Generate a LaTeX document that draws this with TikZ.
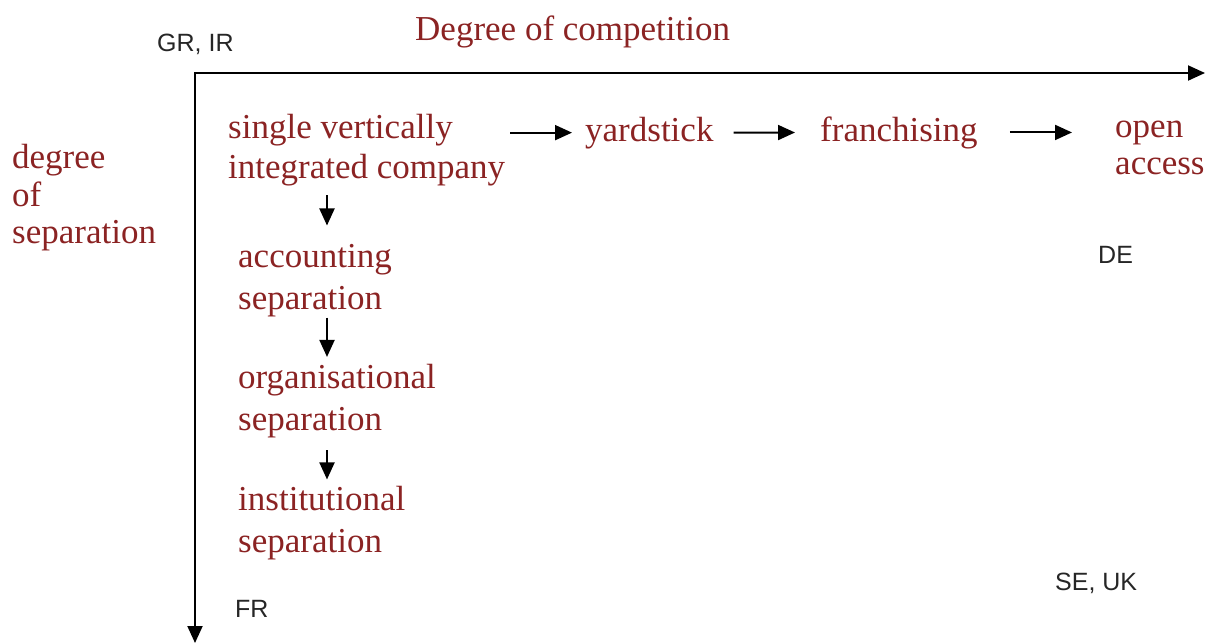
\documentclass[tikz,border=0pt]{standalone}
\usepackage{fontspec}
\setmainfont{Liberation Serif}
\setsansfont{Liberation Sans}
\usepackage{tikz}
\usepackage{xcolor}
\usetikzlibrary{arrows.meta,positioning}
\definecolor{regRed}{HTML}{8B2323}
\definecolor{regInk}{HTML}{262626}
\tikzset{
  term/.style={inner sep=0pt,align=left,text=regRed,
               font=\fontsize{35}{42}\selectfont},
  ctry/.style={inner sep=0pt,text=regInk,font=\sffamily\fontsize{25}{30}\selectfont},
  axis/.style={{Triangle[length=17pt,width=15pt]}-{Triangle[length=17pt,width=15pt]},
               line width=2pt,line join=miter},
  flow/.style={-{Triangle[length=17pt,width=15pt]},line width=2pt},
}

\begin{document}
\begin{tikzpicture}[x=1pt,y=-1pt]
        \useasboundingbox (0,0) rectangle (1217,643);
        \coordinate (o) at (195,73);
        \coordinate (xend) at (1205,73);
        \coordinate (yend) at (195,643);
        \coordinate (col) at (327,0);
        \draw[axis] (yend) -- (o) -- (xend);
        \node[term,anchor=base west] (comp) at (415,40) {Degree of competition};
        \node[ctry,anchor=base west] (grir) at (157,51) {GR, IR};
        \node[term,anchor=west,font=\fontsize{35}{37.5}\selectfont] (sep) at (12,198) {degree\\of\\separation};
        \node[term,anchor=west,font=\fontsize{35}{40}\selectfont] (svic) at (228,150) {single vertically\\integrated company};
        \node[term,anchor=base west] (yard) at (585,141) {yardstick};
        \node[term,anchor=base west] (fran) at (820,141) {franchising};
        \node[term,anchor=west,font=\fontsize{35}{37}\selectfont] (open) at (1115,148) {open\\access};
        \node[term,anchor=west] (acc) at (238,281) {accounting\\separation};
        \node[term,anchor=west] (org) at (238,401) {organisational\\separation};
        \node[term,anchor=west] (inst) at (238,523.5) {institutional\\separation};
        \node[ctry,anchor=base west] (fr) at (235,617) {FR};
        \node[ctry,anchor=base west] (de) at (1098,263) {DE};
        \node[ctry,anchor=base west] (seuk) at (1055,590) {SE, UK};
        \draw[flow,shorten <=5pt,shorten >=13pt] (svic.east |- yard.west) -- (yard.west);
        \draw[flow,shorten <=20pt,shorten >=25pt] (yard.east) -- (fran.west);
        \draw[flow,shorten <=32pt,shorten >=43pt] (fran.east) -- (open.west |- fran.east);
        \draw[flow,shorten <=9pt,shorten >=19pt] (svic.south -| col) -- (acc.north -| col);
        \draw[flow,shorten <=0pt,shorten >=7pt] (acc.south -| col) -- (org.north -| col);
        \draw[flow,shorten <=12pt,shorten >=7pt] (org.south -| col) -- (inst.north -| col);
      \end{tikzpicture}
\end{document}
